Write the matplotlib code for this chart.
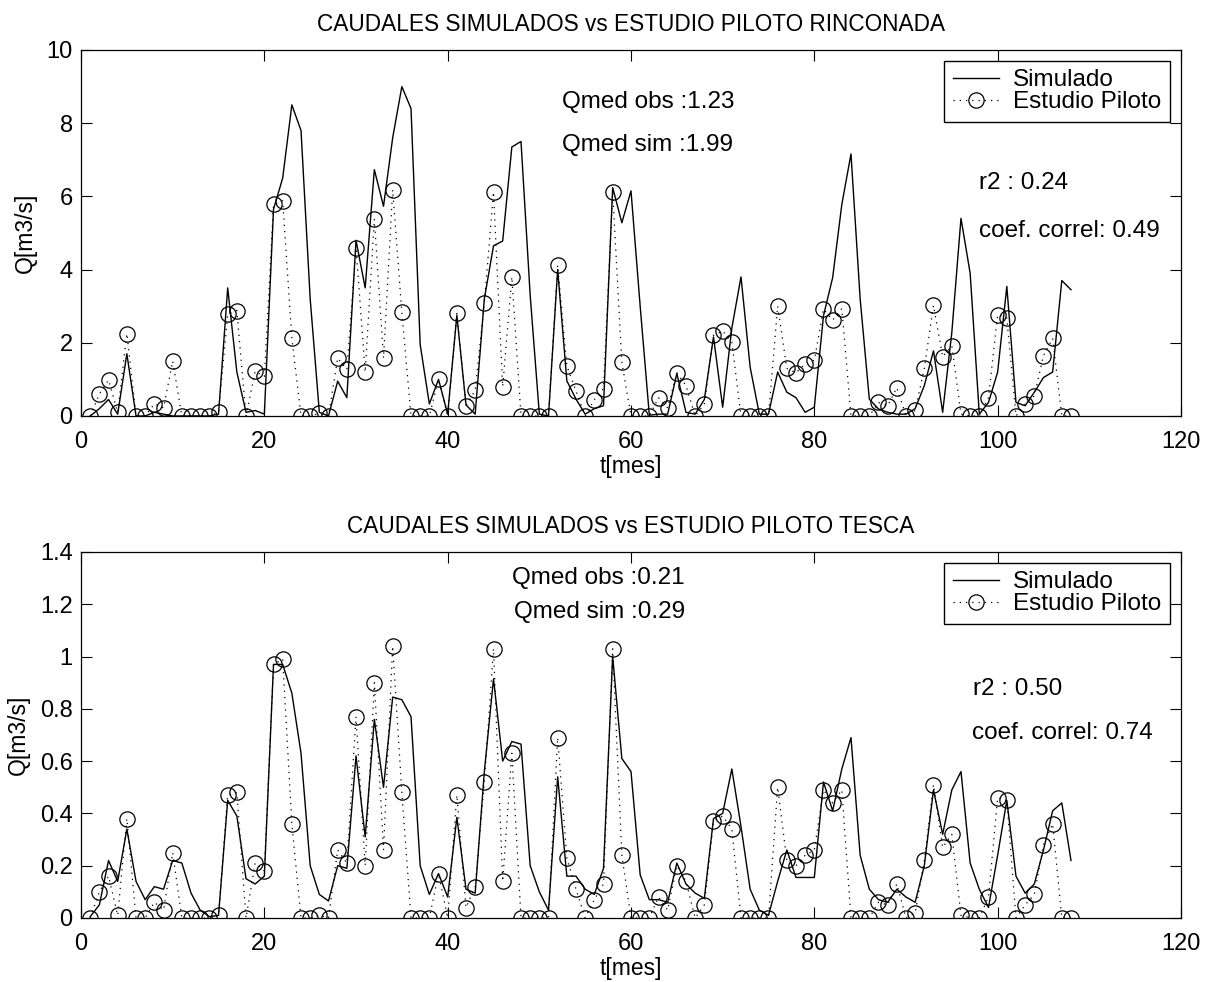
import numpy as np
import matplotlib
matplotlib.use("Agg")
import matplotlib.pyplot as plt

# monthly index
t = np.arange(1, 109)

# RINCONADA - simulated and pilot study flows [m3/s]
sim_rinc = [0, 0.2, 0.45, 0.05, 1.7, 0, 0, 0.1, 0.05, 0,
            0, 0, 0, 0, 0.05, 3.5, 1.2, 0.1, 0.15, 0.05,
            5.65, 6.5, 8.5, 7.8, 3.2, 0.1, 0, 0.95, 0.5, 4.8,
            3.5, 6.73, 5.73, 7.6, 9.0, 8.4, 1.95, 0.33, 1.0, 0.05,
            2.75, 0.3, 0.05, 3.2, 4.65, 4.78, 7.35, 7.5, 3.3, 0.05,
            0, 4.0, 0.96, 0.46, 0.05, 0.2, 0.28, 6.24, 5.28, 6.15,
            3.0, 0.02, 0.05, 0.05, 1.16, 0.1, 0.05, 0.45, 2.16, 0.24,
            2.4, 3.8, 1.33, 0.05, 0.05, 1.2, 0.65, 0.5, 0.1, 0.24,
            2.74, 3.78, 5.78, 7.16, 3.2, 0.46, 0.19, 0.1, 0.05, 0.05,
            0.2, 0.83, 1.78, 0.1, 2.28, 5.4, 3.9, 0.05, 0.37, 1.2,
            3.54, 0.37, 0.28, 0.65, 1.05, 1.2, 3.7, 3.45]
obs_rinc = [0, 0.6, 0.98, 0.1, 2.25, 0, 0, 0.33, 0.22, 1.5,
            0, 0, 0, 0, 0.1, 2.78, 2.88, 0, 1.22, 1.08,
            5.78, 5.88, 2.12, 0, 0, 0.07, 0, 1.58, 1.27, 4.6,
            1.2, 5.38, 1.58, 6.18, 2.83, 0, 0, 0, 1.0, 0,
            2.8, 0.28, 0.7, 3.1, 6.12, 0.8, 3.8, 0, 0, 0,
            0, 4.12, 1.37, 0.68, 0, 0.45, 0.75, 6.12, 1.47, 0,
            0, 0, 0.5, 0.22, 1.18, 0.83, 0, 0.32, 2.2, 2.32,
            2.02, 0, 0, 0, 0, 3.0, 1.3, 1.18, 1.42, 1.52,
            2.92, 2.62, 2.93, 0, 0, 0, 0.37, 0.28, 0.77, 0,
            0.15, 1.3, 3.02, 1.62, 1.92, 0.05, 0, 0, 0.5, 2.77,
            2.68, 0, 0.33, 0.55, 1.65, 2.12, 0, 0]

# TESCA
sim_tesca = [0.005, 0.05, 0.22, 0.14, 0.34, 0.14, 0.07, 0.12, 0.11, 0.22,
             0.21, 0.095, 0.03, 0.005, 0.01, 0.45, 0.39, 0.15, 0.13, 0.16,
             0.97, 0.97, 0.86, 0.63, 0.2, 0.09, 0.065, 0.2, 0.19, 0.62,
             0.31, 0.76, 0.5, 0.845, 0.835, 0.77, 0.2, 0.09, 0.17, 0.08,
             0.385, 0.11, 0.095, 0.56, 0.915, 0.6, 0.675, 0.665, 0.2, 0.1,
             0.03, 0.54, 0.16, 0.16, 0.11, 0.09, 0.19, 1.0, 0.61, 0.56,
             0.165, 0.07, 0.07, 0.06, 0.21, 0.13, 0.095, 0.075, 0.38, 0.4,
             0.57, 0.35, 0.11, 0.03, 0.01, 0.14, 0.26, 0.155, 0.155, 0.155,
             0.52, 0.41, 0.57, 0.69, 0.24, 0.11, 0.07, 0.06, 0.11, 0.08,
             0.06, 0.2, 0.49, 0.32, 0.49, 0.56, 0.21, 0.11, 0.04, 0.24,
             0.45, 0.16, 0.095, 0.13, 0.26, 0.41, 0.44, 0.22]
obs_tesca = [0, 0.1, 0.16, 0.01, 0.38, 0, 0, 0.06, 0.03, 0.25,
             0, 0, 0, 0, 0.01, 0.47, 0.48, 0, 0.21, 0.18,
             0.97, 0.99, 0.36, 0, 0, 0.01, 0, 0.26, 0.21, 0.77,
             0.2, 0.9, 0.26, 1.04, 0.48, 0, 0, 0, 0.17, 0,
             0.47, 0.04, 0.12, 0.52, 1.03, 0.14, 0.63, 0, 0, 0,
             0, 0.69, 0.23, 0.11, 0, 0.07, 0.13, 1.03, 0.24, 0,
             0, 0, 0.08, 0.03, 0.2, 0.14, 0, 0.05, 0.37, 0.39,
             0.34, 0, 0, 0, 0, 0.5, 0.22, 0.2, 0.24, 0.26,
             0.49, 0.44, 0.49, 0, 0, 0, 0.06, 0.05, 0.13, 0,
             0.02, 0.22, 0.51, 0.27, 0.32, 0.01, 0, 0, 0.08, 0.46,
             0.45, 0, 0.05, 0.09, 0.28, 0.36, 0, 0]

titles = ["CAUDALES SIMULADOS vs ESTUDIO PILOTO RINCONADA",
          "CAUDALES SIMULADOS vs ESTUDIO PILOTO TESCA"]
stats_rinc = ["Qmed obs :1.23", "Qmed sim :1.99", "r2 : 0.24", "coef. correl: 0.49"]
stats_tesca = ["Qmed obs :0.21", "Qmed sim :0.29", "r2 : 0.50", "coef. correl: 0.74"]

plt.rcParams['font.family'] = ['Liberation Sans', 'DejaVu Sans']
plt.rcParams['font.size'] = 17

fig = plt.figure(figsize=(12.13, 9.82), dpi=100)
ax1 = fig.add_axes([0.0668, 0.5764, 0.9068, 0.3727])
ax2 = fig.add_axes([0.0668, 0.0652, 0.9068, 0.3727])

panels = [
    (ax1, sim_rinc, obs_rinc, titles[0], stats_rinc, (0, 10), np.arange(0, 11, 2),
     [(52.5, 8.58), (52.5, 7.40), (98.0, 6.37), (98.0, 5.05)]),
    (ax2, sim_tesca, obs_tesca, titles[1], stats_tesca, (0, 1.4), np.arange(0, 1.41, 0.2),
     [(47.0, 1.30), (47.2, 1.17), (97.3, 0.874), (97.2, 0.709)]),
]

for ax, sim, obs, title, stats, ylim, yticks, pos in panels:
    ax.plot(t, sim, 'k-', lw=1.0, label='Simulado')
    ax.plot(t, obs, color='k', ls=(0, (1, 4)), lw=0.9, marker='o', ms=11,
            mfc='none', mec='k', mew=0.9, label='Estudio Piloto')
    ax.set_xlim(0, 120)
    ax.set_ylim(*ylim)
    ax.set_xticks(np.arange(0, 121, 20))
    ax.set_yticks(yticks)
    ax.set_yticklabels(['%g' % round(v, 2) for v in yticks])
    ax.tick_params(direction='in', top=True, right=True, length=8, width=0.8,
                   labelsize=17)
    ax.tick_params(axis='x', pad=11)
    ax.tick_params(axis='y', pad=6)
    ax.set_xlabel('t[mes]', fontsize=16.5, labelpad=1)
    ax.set_ylabel('Q[m3/s]', fontsize=16.5, labelpad=7)
    ax.set_title(title, fontsize=16.3, pad=14)
    for s, (x, y) in zip(stats, pos):
        ax.text(x, y, s, ha='left', va='center', fontsize=17.5)
    leg = ax.legend(loc='upper right', borderaxespad=0.45, fancybox=False,
                    edgecolor='k', framealpha=1, handlelength=1.9,
                    handletextpad=0.6, borderpad=0.35, labelspacing=0.0,
                    fontsize=17.5)
    leg.get_frame().set_linewidth(1.0)
    for sp in ax.spines.values():
        sp.set_linewidth(0.9)

fig.savefig("out.png", dpi=100)
